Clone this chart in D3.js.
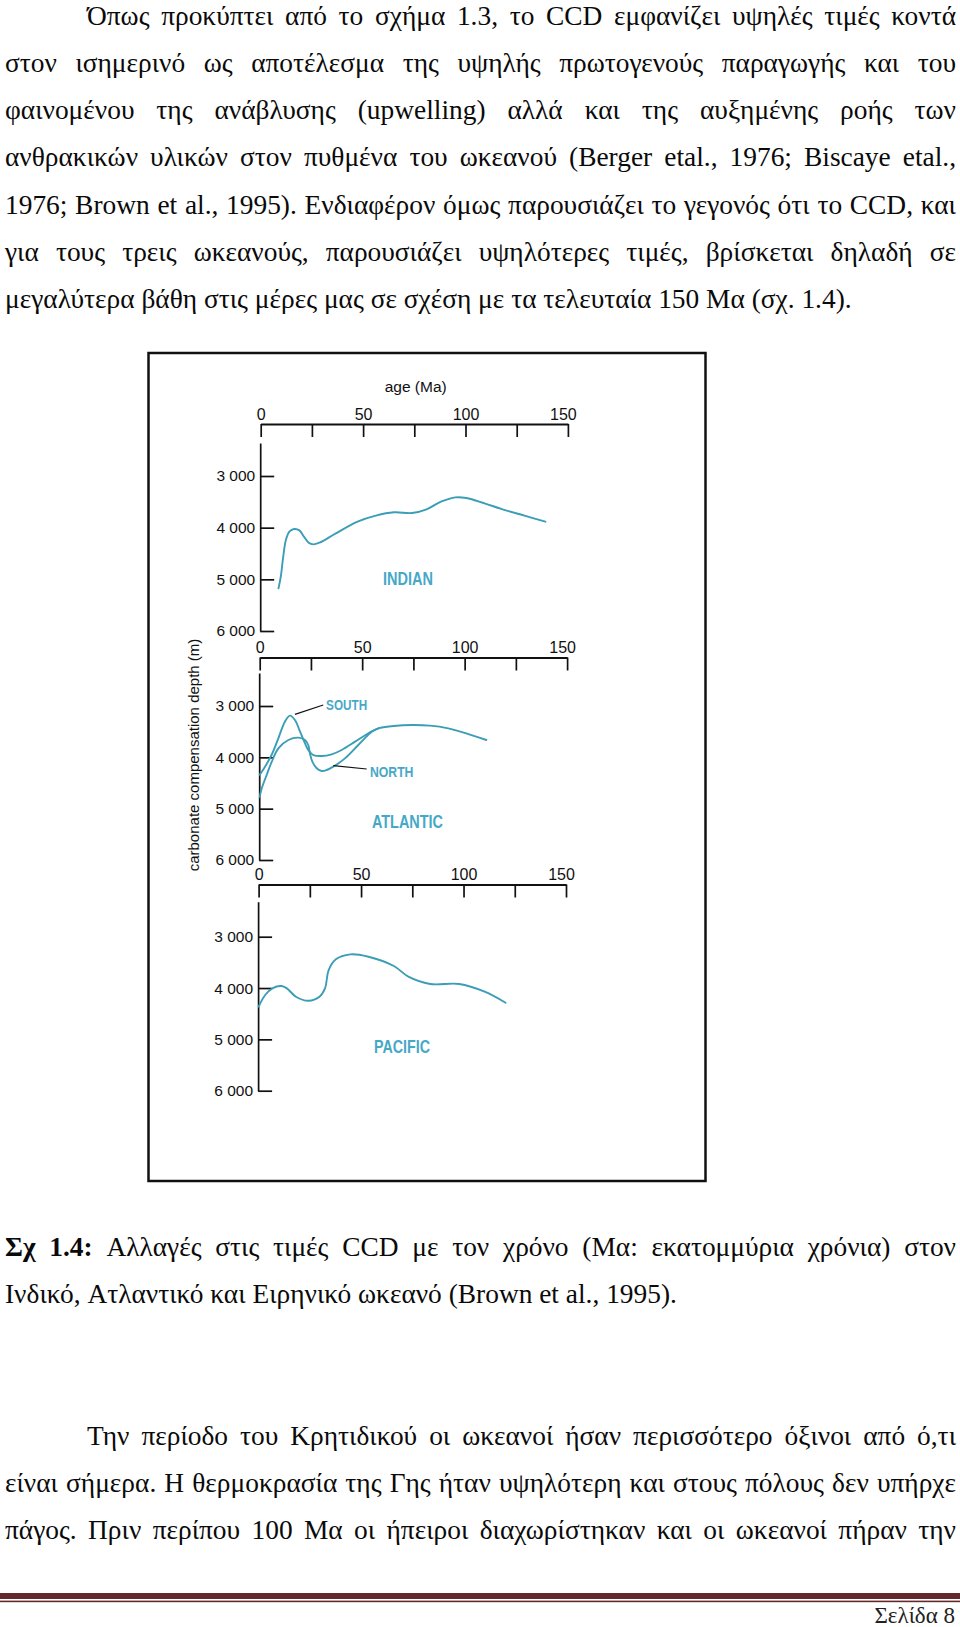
<!DOCTYPE html>
<html><head><meta charset="utf-8">
<script src="https://cdn.jsdelivr.net/npm/d3@7"></script>
<style>body{margin:0;background:#fff}svg{display:block}</style>
</head><body>
<svg id="page" width="960" height="1627"></svg>
<script>
// ---------------- DATA ----------------
const ageTicks = [0, 25, 50, 75, 100, 125, 150];
const ageTickLabels = ["0", "", "50", "", "100", "", "150"];
const depthTicks = [3000, 4000, 5000, 6000];
const depthTickLabels = ["3 000", "4 000", "5 000", "6 000"];

const indianAge   = [8.7, 9.8, 11.0, 12.3, 14.0, 16.3, 18.9, 21.1, 23.4, 25.7, 28.7, 36.7, 47.3, 56.2, 65.0, 73.9, 81.0, 88.0, 95.1, 100.4, 109.3, 118.1, 128.8, 139.0];
const indianDepth = [5174, 4949, 4562, 4239, 4078, 4026, 4052, 4174, 4290, 4323, 4290, 4110, 3884, 3768, 3703, 3716, 3645, 3497, 3413, 3426, 3529, 3645, 3768, 3884];

const southAge   = [0, 2.6, 5.8, 9.1, 12.3, 14.8, 17.2, 19.7, 22.1, 23.7, 26.2, 30.3, 35.1, 40.0, 46.5, 53.0, 57.9, 65.4, 74.3, 83.1, 92.0, 100.8, 110.6];
const southDepth = [4340, 4182, 3955, 3630, 3305, 3188, 3273, 3500, 3727, 3857, 3955, 3974, 3942, 3857, 3695, 3532, 3435, 3390, 3370, 3383, 3435, 3532, 3662];

const northAge   = [0, 1.0, 3.4, 5.9, 9.1, 14.0, 18.8, 22.1, 23.7, 24.5, 25.7, 27.8, 30.3, 32.7, 35.9, 41.6, 48.1, 54.7, 57.9];
const northDepth = [4770, 4604, 4344, 4085, 3825, 3662, 3617, 3662, 3760, 3922, 4085, 4214, 4266, 4247, 4182, 4020, 3760, 3500, 3435];

const pacificAge   = [0, 3.2, 6.7, 11.1, 13.8, 18.2, 24.4, 29.7, 32.4, 34.2, 37.7, 44.8, 53.6, 66.0, 73.1, 83.7, 97.9, 110.3, 120.5];
const pacificDepth = [4364, 4136, 4006, 3961, 4006, 4169, 4247, 4169, 4006, 3649, 3441, 3344, 3390, 3571, 3779, 3921, 3921, 4071, 4286];

const paragraph1 = [
  "Όπως προκύπτει από το σχήμα 1.3, το CCD εμφανίζει υψηλές τιμές κοντά",
  "στον ισημερινό ως αποτέλεσμα της υψηλής πρωτογενούς παραγωγής και του",
  "φαινομένου της ανάβλυσης (upwelling) αλλά και της αυξημένης ροής των",
  "ανθρακικών υλικών στον πυθμένα του ωκεανού (Berger etal., 1976; Biscaye etal.,",
  "1976; Brown et al., 1995). Ενδιαφέρον όμως παρουσιάζει το γεγονός ότι το CCD, και",
  "για τους τρεις ωκεανούς, παρουσιάζει υψηλότερες τιμές, βρίσκεται δηλαδή σε",
  "μεγαλύτερα βάθη στις μέρες μας σε σχέση με τα τελευταία 150 Μα (σχ. 1.4)."
];
const captionBold = "Σχ 1.4:";
const caption = [
  "Σχ 1.4: Αλλαγές στις τιμές CCD με τον χρόνο (Μα: εκατομμύρια χρόνια) στον",
  "Ινδικό, Ατλαντικό και Ειρηνικό ωκεανό (Brown et al., 1995)."
];
const paragraph2 = [
  "Την περίοδο του Κρητιδικού οι ωκεανοί ήσαν περισσότερο όξινοι από ό,τι",
  "είναι σήμερα. Η θερμοκρασία της Γης ήταν υψηλότερη και στους πόλους δεν υπήρχε",
  "πάγος. Πριν περίπου 100 Μα οι ήπειροι διαχωρίστηκαν και οι ωκεανοί πήραν την"
];
const pageLabel = "Σελίδα 8";
const xAxisTitle = "age (Ma)";
const yAxisTitle = "carbonate compensation depth (m)";

// ---------------- LAYOUT ----------------
const svg = d3.select("#page");
svg.append("rect").attr("width", 960).attr("height", 1627).attr("fill", "#fff");

const serif = "'Liberation Serif','Times New Roman',serif";
const sans = "'Liberation Sans',Arial,Helvetica,sans-serif";
const narrow = "'Liberation Sans Narrow','Arial Narrow','Liberation Sans',Arial,sans-serif";
const FS = 27.4;
const curveColor = "#3b9db6";
const labelColor = "#46a8c7";

function drawLine(str, y, xs, xe, justify, boldPrefix) {
  const words = str.split(" ");
  const t = svg.append("text").attr("y", y)
    .attr("font-family", serif).attr("font-size", FS).attr("fill", "#0a0a0a");
  const nodes = words.map(w => t.append("tspan").text(w));
  if (boldPrefix) {
    const bw = boldPrefix.split(" ").length;
    nodes.slice(0, bw).forEach(n => n.attr("font-weight", "bold"));
  }
  const widths = nodes.map(n => n.node().getComputedTextLength());
  const sum = d3.sum(widths);
  let gap = FS * 0.25;
  if (justify && words.length > 1) gap = (xe - xs - sum) / (words.length - 1);
  let x = xs;
  nodes.forEach((n, i) => { n.attr("x", x); x += widths[i] + gap; });
}

const TX0 = 5, TX1 = 956, INDENT = 87, LH = 47.3;
paragraph1.forEach((l, i) => drawLine(l, 24.5 + LH * i, i === 0 ? INDENT : TX0, TX1, i < paragraph1.length - 1));
caption.forEach((l, i) => drawLine(l, 1255.5 + LH * i, TX0, TX1, i < caption.length - 1, i === 0 ? captionBold : null));
paragraph2.forEach((l, i) => drawLine(l, 1444.5 + LH * i, i === 0 ? INDENT : TX0, TX1, true));

// footer
svg.append("rect").attr("x", 0).attr("y", 1593).attr("width", 960).attr("height", 6).attr("fill", "#62282a");
svg.append("rect").attr("x", 0).attr("y", 1600.6).attr("width", 960).attr("height", 1.6).attr("fill", "#62282a");
svg.append("text").attr("x", 955).attr("y", 1623).attr("text-anchor", "end")
  .attr("font-family", serif).attr("font-size", 23).attr("fill", "#222").text(pageLabel);

// figure frame
svg.append("rect").attr("x", 148.5).attr("y", 353).attr("width", 557).attr("height", 828)
  .attr("fill", "none").attr("stroke", "#111").attr("stroke-width", 2.5);

const panels = [
  { name: "INDIAN", x0: 260.7, x1: 567.9, axisY: 424, yTop: 443, y3: 476, y6: 631,
    label: { age: 71.9, depth: 5110, w: 50 },
    series: [[indianAge, indianDepth]] },
  { name: "ATLANTIC", x0: 259.7, x1: 567.1, axisY: 657.5, yTop: 673, y3: 706, y6: 860,
    label: { age: 72.1, depth: 5377, w: 71 },
    series: [[southAge, southDepth], [northAge, northDepth]] },
  { name: "PACIFIC", x0: 258.6, x1: 566, axisY: 884.5, yTop: 901.7, y3: 936.7, y6: 1090.7,
    label: { age: 70.0, depth: 5266, w: 56 },
    series: [[pacificAge, pacificDepth]] }
];

panels.forEach((p, pi) => {
  const x = d3.scaleLinear().domain([0, 150]).range([p.x0, p.x1]);
  const yLin = d3.scaleLinear().domain([3000, 6000]).range([p.y3, p.y6]);
  const y = d3.scaleLinear().domain([yLin.invert(p.yTop), 6000]).range([p.yTop, p.y6]);
  p.x = x; p.y = y;

  const g = svg.append("g");
  const xa = d3.axisTop(x).tickValues(ageTicks)
    .tickFormat((d, i) => ageTickLabels[i]).tickSizeInner(-13).tickSizeOuter(0).tickPadding(4.5);
  const gx = g.append("g").attr("transform", `translate(0,${p.axisY})`).call(xa);
  gx.selectAll("path,line").attr("stroke", "#111").attr("stroke-width", 1.7);
  gx.selectAll("text").attr("font-family", sans).attr("font-size", 16).attr("fill", "#111")
    .attr("dx", d => d === 150 ? -5 : 0);

  const ya = d3.axisLeft(y).tickValues(depthTicks)
    .tickFormat((d, i) => depthTickLabels[i]).tickSizeInner(-14).tickSizeOuter(0).tickPadding(5);
  const gy = g.append("g").attr("transform", `translate(${p.x0 - 0.5},0)`).call(ya);
  gy.selectAll("path,line").attr("stroke", "#111").attr("stroke-width", 1.7);
  gy.selectAll("text").attr("font-family", sans).attr("font-size", 15.5).attr("fill", "#111");
  gx.select(".domain").attr("stroke-width", 1.8);

  const line = d3.line().x(d => x(d[0])).y(d => y(d[1])).curve(d3.curveCatmullRom.alpha(0.5));
  p.series.forEach(([ages, depths]) => {
    g.append("path").datum(ages.map((a, i) => [a, depths[i]]))
      .attr("d", line).attr("fill", "none").attr("stroke", curveColor)
      .attr("stroke-width", 1.9).attr("stroke-linejoin", "round").attr("stroke-linecap", "round");
  });

  g.append("text").attr("x", x(p.label.age) - p.label.w / 2).attr("y", y(p.label.depth))
    .attr("font-family", narrow).attr("font-weight", "bold").attr("font-size", 17.5)
    .attr("fill", labelColor).attr("textLength", p.label.w).attr("lengthAdjust", "spacingAndGlyphs")
    .text(p.name);
});

// axis titles
{
  const p = panels[0];
  svg.append("text").attr("x", p.x(75.7)).attr("y", 392).attr("text-anchor", "middle")
    .attr("font-family", sans).attr("font-size", 15.5).attr("fill", "#111").text(xAxisTitle);
}
svg.append("text").attr("transform", "translate(199,755) rotate(-90)").attr("text-anchor", "middle")
  .attr("font-family", sans).attr("font-size", 15).attr("fill", "#111").text(yAxisTitle);

// Atlantic sub-labels with leader lines
{
  const p = panels[1];
  const sub = [
    { name: "SOUTH", from: [17.2, 3162], to: [31.0, 2980], at: [32.4, 3078], w: 41 },
    { name: "NORTH", from: [35.9, 4163], to: [52.2, 4227], at: [53.8, 4377], w: 43.5 }
  ];
  sub.forEach(s => {
    svg.append("line").attr("x1", p.x(s.from[0])).attr("y1", p.y(s.from[1]))
      .attr("x2", p.x(s.to[0])).attr("y2", p.y(s.to[1]))
      .attr("stroke", "#111").attr("stroke-width", 1.2);
    svg.append("text").attr("x", p.x(s.at[0])).attr("y", p.y(s.at[1]))
      .attr("font-family", narrow).attr("font-weight", "bold").attr("font-size", 14.3)
      .attr("fill", labelColor).attr("textLength", s.w).attr("lengthAdjust", "spacingAndGlyphs")
      .text(s.name);
  });
}
</script>
</body></html>
